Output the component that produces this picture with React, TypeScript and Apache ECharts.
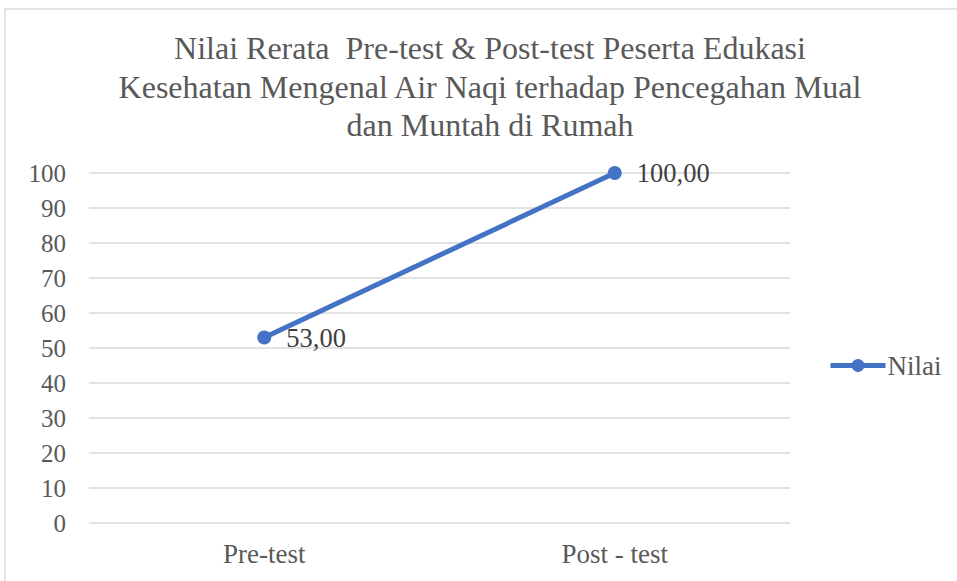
import React, { useEffect, useRef } from "react";
import * as echarts from "echarts";

const titleText = "Nilai Rerata  Pre-test & Post-test Peserta Edukasi\nKesehatan Mengenal Air Naqi terhadap Pencegahan Mual\ndan Muntah di Rumah";
const categories = ["Pre-test", "Post - test"];
const seriesName = "Nilai";
const values = [53, 100];
const yMin = 0;
const yMax = 100;
const yInterval = 10;

const FONT = "Liberation Serif";

export default function App() {
  const ref = useRef<HTMLDivElement>(null);
  useEffect(() => {
    if (!ref.current) return;
    const chart = echarts.init(ref.current, undefined, { renderer: "svg" });
    chart.setOption({
      animation: false,
      backgroundColor: "#ffffff",
      graphic: [
        {
          type: "rect",
          shape: { x: 5, y: 9, width: 1000, height: 700 },
          style: { fill: "none", stroke: "#d9d9d9", lineWidth: 1.5 },
          silent: true,
        },
      ],
      title: {
        text: titleText,
        left: 485,
        top: 24,
        textAlign: "center",
        textStyle: {
          fontFamily: FONT,
          fontSize: 32,
          fontWeight: "normal",
          color: "#595959",
          lineHeight: 38.5,
        },
      },
      legend: {
        data: [seriesName],
        left: 823,
        top: 347,
        itemWidth: 55,
        itemHeight: 16,
        lineStyle: { width: 5, color: "#4472C4" },
        itemStyle: { color: "#4472C4" },
        textStyle: { fontFamily: FONT, fontSize: 27, color: "#595959", padding: [0, 0, 0, -3] },
      },
      grid: { left: 89, right: 167, top: 173, bottom: 58, containLabel: false },
      xAxis: {
        type: "category",
        data: categories,
        boundaryGap: true,
        axisLine: { show: false },
        axisTick: { show: false },
        axisLabel: { fontFamily: FONT, fontSize: 27, color: "#595959", margin: 17 },
      },
      yAxis: {
        type: "value",
        min: yMin,
        max: yMax,
        interval: yInterval,
        axisLine: { show: false },
        axisTick: { show: false },
        axisLabel: { fontFamily: FONT, fontSize: 25, color: "#595959", margin: 23 },
        splitLine: { lineStyle: { color: "#d9d9d9", width: 1.5 } },
      },
      series: [
        {
          name: seriesName,
          type: "line",
          data: values,
          symbol: "circle",
          symbolSize: 14,
          itemStyle: { color: "#4472C4" },
          lineStyle: { color: "#4472C4", width: 5 },
          label: {
            show: true,
            position: "right",
            distance: 15,
            fontFamily: FONT,
            fontSize: 26.5,
            color: "#404040",
            formatter: (p: any) => Number(p.value).toFixed(2).replace(".", ","),
          },
        },
      ],
    });
    return () => chart.dispose();
  }, []);
  return (
    <div
      ref={ref}
      style={{ position: "fixed", left: 0, top: 0, width: 957, height: 581 }}
    />
  );
}
